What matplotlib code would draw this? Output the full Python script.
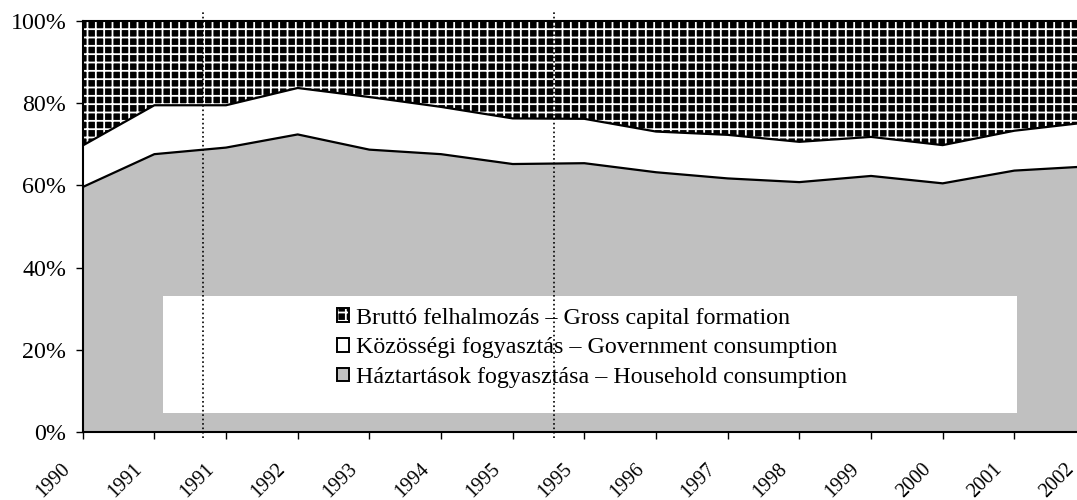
import numpy as np
import matplotlib
matplotlib.use("Agg")
import matplotlib.pyplot as plt
from matplotlib.patches import Patch, Rectangle

plt.rcParams["font.family"] = ["Liberation Serif", "DejaVu Serif"]
plt.rcParams["hatch.linewidth"] = 1.3

# year labels (1991 and 1995 appear twice: break in the series)
years = ["1990", "1991", "1991", "1992", "1993", "1994", "1995", "1995",
         "1996", "1997", "1998", "1999", "2000", "2001", "2002"]

# shares of GDP use, percent
household = [59.6, 67.6, 69.2, 72.4, 68.7, 67.6, 65.2, 65.4,
             63.2, 61.7, 60.8, 62.3, 60.5, 63.6, 64.6]
government = [10.1, 11.9, 10.3, 11.3, 12.8, 11.5, 11.1, 10.8,
              9.9, 10.6, 9.8, 9.5, 9.3, 9.7, 10.7]
capital = [30.3, 20.5, 20.5, 16.3, 18.5, 20.9, 23.7, 23.8,
           26.9, 27.7, 29.4, 28.2, 30.2, 26.7, 24.7]

labels = ["Háztartások fogyasztása – Household consumption",
          "Közösségi fogyasztás – Government consumption",
          "Bruttó felhalmozás – Gross capital formation"]

# dotted separators between the old and new methodology
break_positions = [1.68, 6.58]

x = np.arange(len(years))

fig = plt.figure(figsize=(10.77, 5), dpi=100)
# right edge runs a bit past the picture, like the original
ax = fig.add_axes([82.7 / 1077, 68 / 500, (1086 - 82.7) / 1077, 411 / 500])

polys = ax.stackplot(x, household, government, capital,
                     colors=["#c0c0c0", "white", "black"], linewidth=0)
polys[2].set_hatch("++")
polys[2].set_edgecolor("white")
polys[2].set_linewidth(0)

lower = np.array(household)
upper = lower + np.array(government)
ax.plot(x, lower, color="black", lw=1.6, zorder=3)
ax.plot(x, upper, color="black", lw=1.6, zorder=3)

# white legend box
ax.add_patch(Rectangle((0.080, 0.046), 0.851, 0.285, transform=ax.transAxes,
                       facecolor="white", edgecolor="none", zorder=4))

for bp in break_positions:
    ax.plot([bp, bp], [-1.5, 102.5], color="black", ls=":", lw=1.2,
            clip_on=False, zorder=6)

# hatched key: white grid on black, then a black border on top
capital_key = (Patch(facecolor="black", edgecolor="white", hatch="++", lw=0),
               Patch(facecolor="none", edgecolor="black", lw=1.4))
handles = [
    capital_key,
    Patch(facecolor="white", edgecolor="black", lw=1.4),
    Patch(facecolor="#c0c0c0", edgecolor="black", lw=1.4),
]
leg = ax.legend(handles, labels[::-1], loc="center",
                bbox_to_anchor=(0.5076, 0.205), frameon=False,
                fontsize=17.3, handlelength=0.5, handleheight=0.5,
                handletextpad=0.3, labelspacing=0.36)
leg.set_zorder(5)

ax.set_xlim(0, 14)
ax.set_ylim(0, 100)
ax.set_xticks(x)
ax.set_xticklabels([])
# rotated year labels, set a little left and below each tick
for xi, yr in zip(x, years):
    ax.annotate(yr, xy=(xi, 0), xycoords=("data", "axes fraction"),
                xytext=(-15.5, -20), textcoords="offset points",
                rotation=45, ha="right", va="top", rotation_mode="anchor",
                fontsize=14.5, annotation_clip=False)

ax.set_yticks(range(0, 101, 20))
ax.set_yticklabels([f"{v}%" for v in range(0, 101, 20)], fontsize=17.3)
ax.tick_params(axis="both", direction="out", length=4.8, width=1,
               colors="black")
ax.tick_params(axis="y", pad=7)

for s in ax.spines.values():
    s.set_linewidth(1.5)
    s.set_zorder(7)

fig.savefig("out.png", dpi=100)
